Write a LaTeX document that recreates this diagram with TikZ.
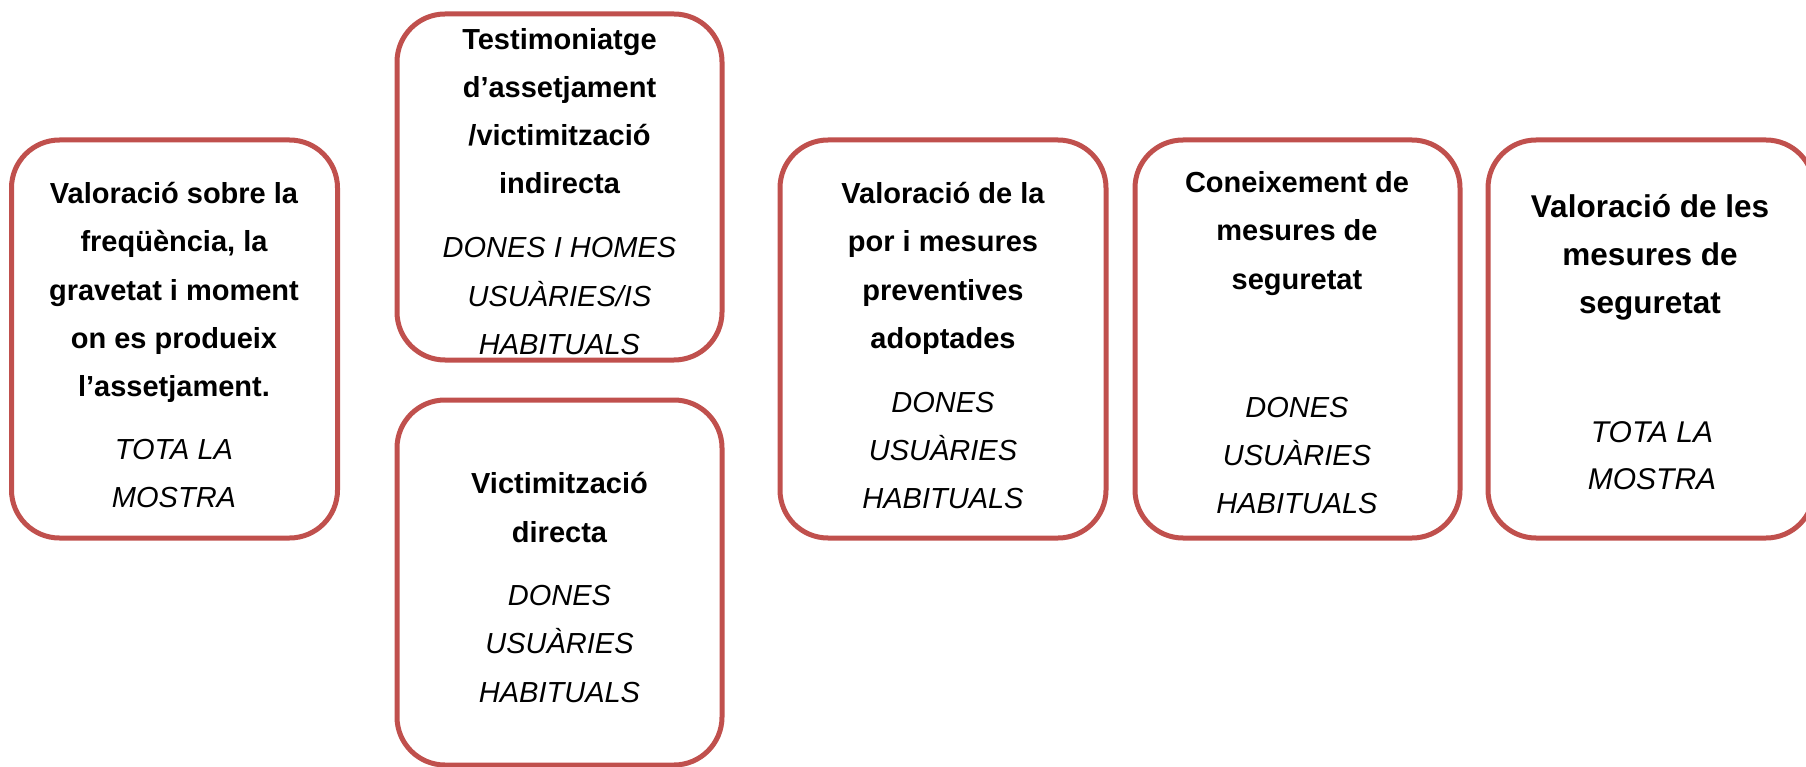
\documentclass[tikz,border=0pt]{standalone}
\usepackage{fontspec}
\setmainfont{Liberation Sans}
\definecolor{boxred}{HTML}{C0504D}
\begin{document}
\begin{tikzpicture}[x=1pt,y=-1pt,
  box/.style={draw=boxred, line width=5pt, rounded corners=48pt, inner sep=0pt},
  bline/.style={anchor=base, inner sep=0pt, font=\fontsize{29}{34}\selectfont\bfseries},
  iline/.style={anchor=base, inner sep=0pt, font=\fontsize{29}{34}\selectfont\itshape},
  bbig/.style={anchor=base, inner sep=0pt, font=\fontsize{31.5}{36}\selectfont\bfseries},
  ibig/.style={anchor=base, inner sep=0pt, font=\fontsize{30}{36}\selectfont\itshape}]
\useasboundingbox (0,0) rectangle (1806,767);
\clip (0,0) rectangle (1806,767);
% boxes
\node[box, minimum width=326pt, minimum height=398pt] (b1) at (174.5,339) {};
\node[box, minimum width=325pt, minimum height=346pt] (b2) at (559.5,187) {};
\node[box, minimum width=325pt, minimum height=365pt] (b3) at (559.5,582.5) {};
\node[box, minimum width=326pt, minimum height=398pt] (b4) at (943,339) {};
\node[box, minimum width=325pt, minimum height=398pt] (b5) at (1297.5,339) {};
\node[box, minimum width=326pt, minimum height=398pt] (b6) at (1651,339) {};
% box 1
\node[bline] (t1a) at (174,204) {Valoració sobre la};
\node[bline] (t1b) at (174,252) {freqüència, la};
\node[bline] (t1c) at (174,300) {gravetat i moment};
\node[bline] (t1d) at (174,348) {on es produeix};
\node[bline] (t1e) at (174,396) {l’assetjament.};
\node[iline] (s1a) at (174,459) {TOTA LA};
\node[iline] (s1b) at (174,507) {MOSTRA};
% box 2
\node[bline] (t2a) at (559.5,50) {Testimoniatge};
\node[bline] (t2b) at (559.5,98) {d’assetjament};
\node[bline] (t2c) at (559.5,146) {/victimització};
\node[bline] (t2d) at (559.5,194) {indirecta};
\node[iline] (s2a) at (559.5,258) {DONES I HOMES};
\node[iline] (s2b) at (559.5,306) {USUÀRIES/IS};
\node[iline] (s2c) at (559.5,354) {HABITUALS};
% box 3
\node[bline] (t3a) at (559.5,493) {Victimització};
\node[bline] (t3b) at (559.5,542) {directa};
\node[iline] (s3a) at (559.5,605) {DONES};
\node[iline] (s3b) at (559.5,653) {USUÀRIES};
\node[iline] (s3c) at (559.5,702) {HABITUALS};
% box 4
\node[bline] (t4a) at (943,204) {Valoració de la};
\node[bline] (t4b) at (943,252) {por i mesures};
\node[bline] (t4c) at (943,300) {preventives};
\node[bline] (t4d) at (943,348) {adoptades};
\node[iline] (s4a) at (943,412) {DONES};
\node[iline] (s4b) at (943,460) {USUÀRIES};
\node[iline] (s4c) at (943,508) {HABITUALS};
% box 5
\node[bline] (t5a) at (1297,193) {Coneixement de};
\node[bline] (t5b) at (1297,241) {mesures de};
\node[bline] (t5c) at (1297,289) {seguretat};
\node[iline] (s5a) at (1297,417) {DONES};
\node[iline] (s5b) at (1297,465) {USUÀRIES};
\node[iline] (s5c) at (1297,513) {HABITUALS};
% box 6
\node[bbig] (t6a) at (1650,218) {Valoració de les};
\node[bbig] (t6b) at (1650,265.5) {mesures de};
\node[bbig] (t6c) at (1650,313) {seguretat};
\node[ibig] (s6a) at (1652,442) {TOTA LA};
\node[ibig] (s6b) at (1652,489) {MOSTRA};
\end{tikzpicture}
\end{document}
